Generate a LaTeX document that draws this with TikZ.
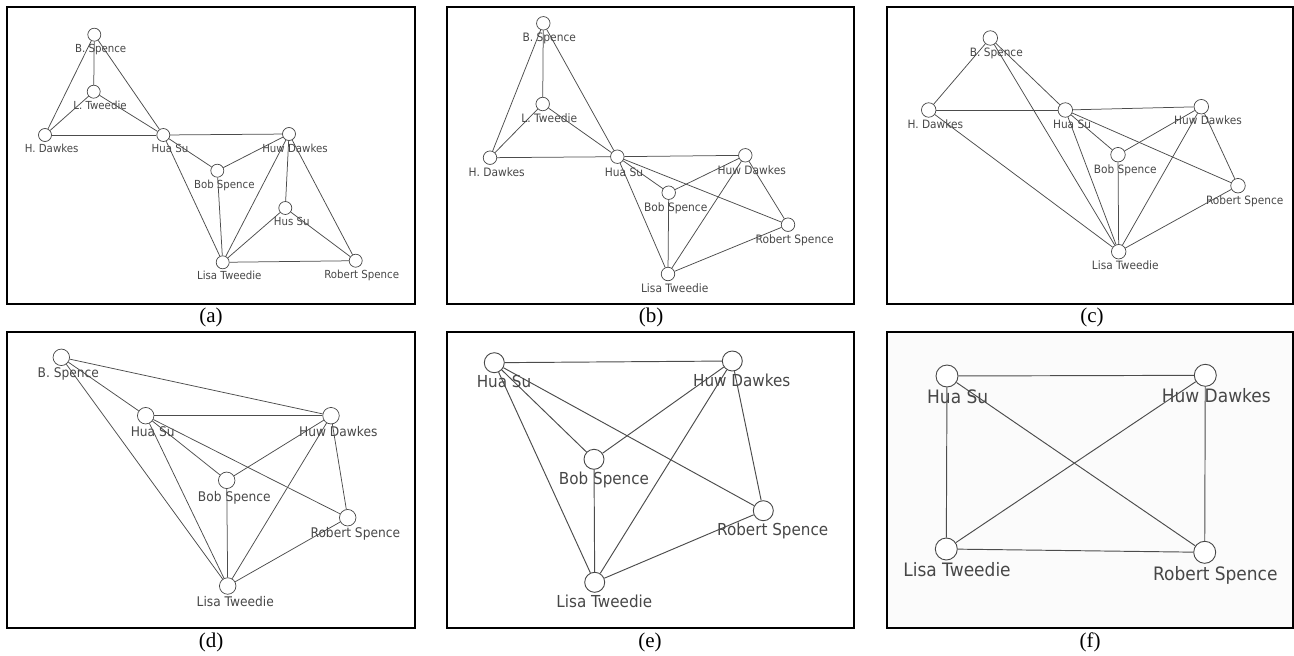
\documentclass[tikz,border=0pt]{standalone}
\usepackage{fontspec}
\setmainfont{Liberation Serif}
\newfontfamily\labfont[FakeStretch=0.92]{DejaVu Sans}
\begin{document}
\begin{tikzpicture}[x=1pt,y=-1pt,
  vtx/.style={circle, draw=black!72, fill=white, inner sep=0pt, line width=0.7pt},
  lab/.style={anchor=mid, text=black!72, inner sep=0pt, yshift=-0.2em},
  edge/.style={draw=black!70, line width=0.75pt},
  frame/.style={draw=black, line width=2pt},
  captxt/.style={font=\fontsize{21}{21}\selectfont, inner sep=0pt}]
\useasboundingbox (0,0) rectangle (1294,656);
% ---------- frames ----------
\fill[black!1.5] (886.7,332.3) rectangle (1293,628.3);
\draw[frame] (7,7) rectangle (415,304);
\draw[frame] (447.3,6.7) rectangle (854,304);
\draw[frame] (886.7,6.7) rectangle (1293,304);
\draw[frame] (7.3,332.3) rectangle (415,628.3);
\draw[frame] (447.3,332.3) rectangle (854.3,628.3);
\draw[frame] (886.7,332.3) rectangle (1293,628.3);
% ---------- captions ----------
\node[captxt] (capa) at (211,317) {(a)};
\node[captxt] (capb) at (651,317) {(b)};
\node[captxt] (capc) at (1092,317) {(c)};
\node[captxt] (capd) at (211,642) {(d)};
\node[captxt] (cape) at (650,642) {(e)};
\node[captxt] (capf) at (1090,642) {(f)};
% ---------- panel (a) ----------
\begin{scope}[vtx/.append style={minimum size=13pt}, lab/.append style={font=\labfont\fontsize{11.1}{12}\selectfont}]
\node[vtx] (a-B)  at (94.3,34.7) {};  \node[lab] (a-Bl)  at (100.7,48.7) {B. Spence};
\node[vtx] (a-L)  at (93.7,91.7) {};  \node[lab] (a-Ll)  at (100,105.7) {L. Tweedie};
\node[vtx] (a-H)  at (45,135) {};     \node[lab] (a-Hl)  at (51.7,148.7) {H. Dawkes};
\node[vtx] (a-HS) at (163.3,135) {};  \node[lab] (a-HSl) at (170,148.7) {Hua Su};
\node[vtx] (a-HD) at (289,134) {};    \node[lab] (a-HDl) at (295,148) {Huw Dawkes};
\node[vtx] (a-BS) at (217.3,170.7) {};\node[lab] (a-BSl) at (224.3,184) {Bob Spence};
\node[vtx] (a-HU) at (285.3,208) {};  \node[lab] (a-HUl) at (291.7,221.7) {Hus Su};
\node[vtx] (a-LT) at (222.7,262.3) {};\node[lab] (a-LTl) at (229.3,275.7) {Lisa Tweedie};
\node[vtx] (a-RS) at (355.7,260.7) {};\node[lab] (a-RSl) at (361.7,274.7) {Robert Spence};
\foreach \u/\v in {B/L,B/H,B/HS,L/H,L/HS,H/HS,HS/HD,HS/BS,HS/LT,BS/HD,BS/LT,HD/LT,HD/HU,HD/RS,HU/LT,HU/RS,LT/RS}
  \draw[edge] (a-\u) -- (a-\v);
\end{scope}
% ---------- panel (b) ----------
\begin{scope}[vtx/.append style={minimum size=13.5pt}, lab/.append style={font=\labfont\fontsize{11.6}{12}\selectfont}]
\node[vtx] (b-B)  at (543.3,23.3) {}; \node[lab] (b-Bl)  at (549.3,37.7) {B. Spence};
\node[vtx] (b-L)  at (542.7,104) {};  \node[lab] (b-Ll)  at (549.3,118) {L. Tweedie};
\node[vtx] (b-H)  at (490,157.7) {};  \node[lab] (b-Hl)  at (496.7,172.3) {H. Dawkes};
\node[vtx] (b-HS) at (617.3,156.7) {};\node[lab] (b-HSl) at (624,172) {Hua Su};
\node[vtx] (b-HD) at (745.3,155.3) {};\node[lab] (b-HDl) at (751.7,170.3) {Huw Dawkes};
\node[vtx] (b-BS) at (668.7,192.7) {};\node[lab] (b-BSl) at (675.7,207.3) {Bob Spence};
\node[vtx] (b-RS) at (788,224.7) {};  \node[lab] (b-RSl) at (794.7,239.3) {Robert Spence};
\node[vtx] (b-LT) at (668,274) {};    \node[lab] (b-LTl) at (674.7,288) {Lisa Tweedie};
\foreach \u/\v in {B/L,B/H,B/HS,L/H,L/HS,H/HS,HS/HD,HS/BS,HS/RS,HS/LT,BS/HD,BS/LT,HD/LT,HD/RS,LT/RS}
  \draw[edge] (b-\u) -- (b-\v);
\end{scope}
% ---------- panel (c) ----------
\begin{scope}[vtx/.append style={minimum size=14.5pt}, lab/.append style={font=\labfont\fontsize{11.5}{12}\selectfont}]
\node[vtx] (c-B)  at (990.3,38) {};    \node[lab] (c-Bl)  at (996.3,52.3) {B. Spence};
\node[vtx] (c-H)  at (928.7,110) {};   \node[lab] (c-Hl)  at (935.3,124.3) {H. Dawkes};
\node[vtx] (c-HS) at (1065.3,110) {};  \node[lab] (c-HSl) at (1072,124.3) {Hua Su};
\node[vtx] (c-HD) at (1201.3,106.7) {};\node[lab] (c-HDl) at (1208,120.7) {Huw Dawkes};
\node[vtx] (c-BS) at (1118,154.7) {};  \node[lab] (c-BSl) at (1125.3,169.3) {Bob Spence};
\node[vtx] (c-RS) at (1238,185.7) {};  \node[lab] (c-RSl) at (1244.7,200) {Robert Spence};
\node[vtx] (c-LT) at (1118.7,251.7) {};\node[lab] (c-LTl) at (1125.3,265.7) {Lisa Tweedie};
\foreach \u/\v in {B/H,B/HS,B/LT,H/HS,H/LT,HS/HD,HS/BS,HS/RS,HS/LT,BS/HD,BS/LT,HD/LT,HD/RS,LT/RS}
  \draw[edge] (c-\u) -- (c-\v);
\end{scope}
% ---------- panel (d) ----------
\begin{scope}[vtx/.append style={minimum size=16.5pt}, lab/.append style={font=\labfont\fontsize{13.3}{14}\selectfont}]
\node[vtx] (d-B)  at (61.3,357.3) {};  \node[lab] (d-Bl)  at (68.3,373.3) {B. Spence};
\node[vtx] (d-HS) at (145.7,415.7) {}; \node[lab] (d-HSl) at (152.7,431.7) {Hua Su};
\node[vtx] (d-HD) at (331,415.7) {};   \node[lab] (d-HDl) at (338.3,431.7) {Huw Dawkes};
\node[vtx] (d-BS) at (226.7,480.3) {}; \node[lab] (d-BSl) at (234.3,496.7) {Bob Spence};
\node[vtx] (d-RS) at (347.7,517.7) {}; \node[lab] (d-RSl) at (355.3,533.3) {Robert Spence};
\node[vtx] (d-LT) at (227.7,586) {};   \node[lab] (d-LTl) at (235.3,602.3) {Lisa Tweedie};
\foreach \u/\v in {B/HD,B/HS,B/LT,HS/HD,HS/BS,HS/RS,HS/LT,BS/HD,BS/LT,HD/LT,HD/RS,LT/RS}
  \draw[edge] (d-\u) -- (d-\v);
\end{scope}
% ---------- panel (e) ----------
\begin{scope}[vtx/.append style={minimum size=20pt, line width=0.9pt}, edge/.append style={line width=0.95pt}, lab/.append style={font=\labfont\fontsize{16.5}{17}\selectfont}]
\node[vtx] (e-HS) at (494.3,362.7) {}; \node[lab] (e-HSl) at (504,383.3) {Hua Su};
\node[vtx] (e-HD) at (732.3,361) {};   \node[lab] (e-HDl) at (741.7,382.3) {Huw Dawkes};
\node[vtx] (e-BS) at (594,459.3) {};   \node[lab] (e-BSl) at (604,480.3) {Bob Spence};
\node[vtx] (e-RS) at (763.3,510.7) {}; \node[lab] (e-RSl) at (772.7,530.7) {Robert Spence};
\node[vtx] (e-LT) at (594.7,582.3) {}; \node[lab] (e-LTl) at (604.3,603) {Lisa Tweedie};
\foreach \u/\v in {HS/HD,HS/BS,HS/RS,HS/LT,HD/BS,HD/LT,HD/RS,BS/LT,LT/RS}
  \draw[edge] (e-\u) -- (e-\v);
\end{scope}
% ---------- panel (f) ----------
\begin{scope}[vtx/.append style={minimum size=22pt, line width=0.9pt}, edge/.append style={line width=0.95pt}, lab/.append style={font=\labfont\fontsize{18.5}{19}\selectfont}]
\node[vtx] (f-HS) at (947,376) {};     \node[lab] (f-HSl) at (957.7,399) {Hua Su};
\node[vtx] (f-HD) at (1205.3,375.3) {};\node[lab] (f-HDl) at (1216.3,398.3) {Huw Dawkes};
\node[vtx] (f-LT) at (946.3,549) {};   \node[lab] (f-LTl) at (957,571.7) {Lisa Tweedie};
\node[vtx] (f-RS) at (1204.7,552.3) {};\node[lab] (f-RSl) at (1215.3,575.7) {Robert Spence};
\foreach \u/\v in {HS/HD,HS/LT,HS/RS,HD/LT,HD/RS,LT/RS}
  \draw[edge] (f-\u) -- (f-\v);
\end{scope}
\end{tikzpicture}
\end{document}
